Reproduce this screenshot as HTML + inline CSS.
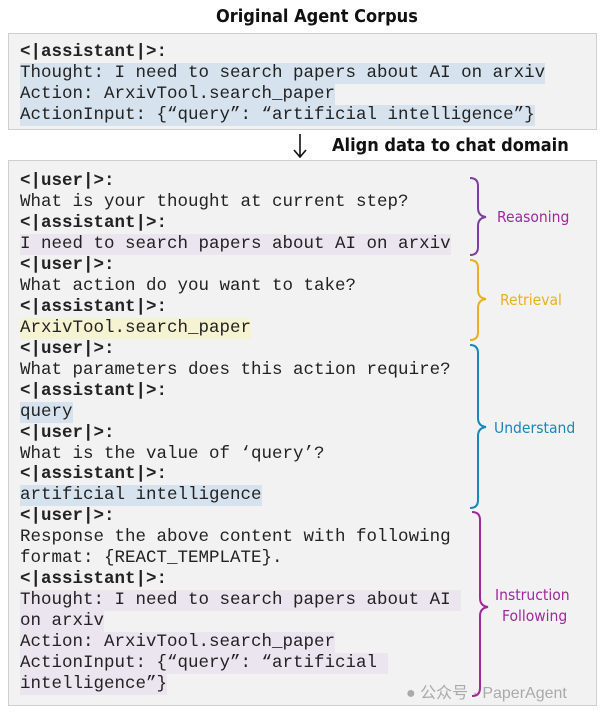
<!DOCTYPE html>
<html><head><meta charset="utf-8"><style>
body{margin:0;width:608px;height:713px;background:#fff;position:relative;font-family:"Liberation Mono","Courier New",Courier,monospace;overflow:hidden}
.box{position:absolute;left:8px;width:589px;background:#f2f2f2;border:1px solid #cfcfcf;box-sizing:border-box}
.l{position:absolute;left:20px;font-family:"Liberation Mono","Courier New",Courier,monospace;font-size:17.5px;line-height:21px;height:21px;white-space:pre;color:#222}
.b{font-weight:bold}
.hb{background:#d6e3ef}.hp{background:#ebe5ef}.hy{background:#f6f3d2}
.lab{position:absolute;font-family:"DejaVu Sans Condensed","Liberation Sans",sans-serif;font-size:15.5px}
.t{position:absolute;font-family:"DejaVu Sans Condensed","Liberation Sans",sans-serif;font-weight:bold;font-size:18px;color:#111}
</style></head><body>
<div class="t" style="left:216px;top:6px">Original Agent Corpus</div>
<div class="box" style="top:33px;height:97px"></div>
<div class="l b" style="top:42px">&lt;|assistant|&gt;:</div>
<div class="l hb" style="top:63px">Thought: I need to search papers about AI on arxiv</div>
<div class="l hb" style="top:84px">Action: ArxivTool.search_paper</div>
<div class="l hb" style="top:105px">ActionInput: {“query”: “artificial intelligence”}</div>
<svg style="position:absolute;left:290px;top:132px" width="20" height="28"><path d="M10 2 V25 M4 18 L10 25 L16 18" stroke="#111" stroke-width="1.6" fill="none"/></svg>
<div class="t" style="left:332px;top:135px">Align data to chat domain</div>
<div class="box" style="top:160px;height:546px"></div>
<div class="l b" style="top:171px">&lt;|user|&gt;:</div>
<div class="l" style="top:192px">What is your thought at current step?</div>
<div class="l b" style="top:213px">&lt;|assistant|&gt;:</div>
<div class="l hp" style="top:234px">I need to search papers about AI on arxiv</div>
<div class="l b" style="top:255px">&lt;|user|&gt;:</div>
<div class="l" style="top:276px">What action do you want to take?</div>
<div class="l b" style="top:297px">&lt;|assistant|&gt;:</div>
<div class="l hy" style="top:318px">ArxivTool.search_paper</div>
<div class="l b" style="top:339px">&lt;|user|&gt;:</div>
<div class="l" style="top:360px">What parameters does this action require?</div>
<div class="l b" style="top:381px">&lt;|assistant|&gt;:</div>
<div class="l hb" style="top:402px">query</div>
<div class="l b" style="top:423px">&lt;|user|&gt;:</div>
<div class="l" style="top:444px">What is the value of ‘query’?</div>
<div class="l b" style="top:464px">&lt;|assistant|&gt;:</div>
<div class="l hb" style="top:485px">artificial intelligence</div>
<div class="l b" style="top:506px">&lt;|user|&gt;:</div>
<div class="l" style="top:527px">Response the above content with following</div>
<div class="l" style="top:548px">format: {REACT_TEMPLATE}.</div>
<div class="l b" style="top:569px">&lt;|assistant|&gt;:</div>
<div class="l hp" style="top:590px">Thought: I need to search papers about AI </div>
<div class="l hp" style="top:611px">on arxiv</div>
<div class="l hp" style="top:632px">Action: ArxivTool.search_paper</div>
<div class="l hp" style="top:653px">ActionInput: {“query”: “artificial </div>
<div class="l hp" style="top:674px">intelligence”}</div>
<svg style="position:absolute;left:0;top:0" width="608" height="713" fill="none" stroke-width="2">
<path d="M470 178 Q478 178 478 186 V208 Q478 216 486 217 Q478 218 478 226 V247 Q478 255 470 255" stroke="#7b3fa0"/>
<path d="M470 260 Q478 260 478 268 V290 Q478 298 486 299 Q478 300 478 308 V332 Q478 340 470 340" stroke="#e8b020"/>
<path d="M470 345 Q478 345 478 353 V418 Q478 426 486 427 Q478 428 478 436 V500 Q478 508 470 508" stroke="#1a86b8"/>
<path d="M472 512 Q480 512 480 520 V598 Q480 606 488 607 Q480 608 480 616 V688 Q480 696 472 696" stroke="#a0289a"/>
</svg>
<div class="lab" style="left:497px;top:208px;color:#a0289a">Reasoning</div>
<div class="lab" style="left:500px;top:291px;color:#e8b020">Retrieval</div>
<div class="lab" style="left:494px;top:419px;color:#1a86b8">Understand</div>
<div class="lab" style="left:495px;top:586px;color:#a0289a">Instruction</div>
<div class="lab" style="left:502px;top:607px;color:#a0289a">Following</div>
<div style="position:absolute;left:406px;top:679px;font-family:'Liberation Sans','Noto Sans CJK SC',sans-serif;font-size:16px;color:#aaa">● 公众号 · PaperAgent</div>
</body></html>
